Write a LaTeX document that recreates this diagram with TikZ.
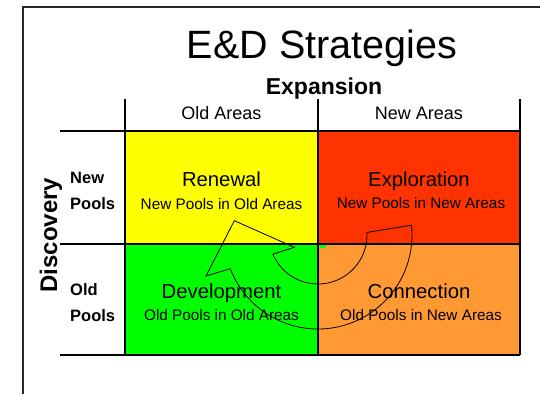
\documentclass[tikz,border=0pt]{standalone}
\usepackage{fontspec}
\setmainfont{Liberation Sans}
\usetikzlibrary{calc}
\definecolor{renewyellow}{RGB}{255,255,0}
\definecolor{explred}{RGB}{255,51,0}
\definecolor{devgreen}{RGB}{0,255,0}
\definecolor{connorange}{RGB}{255,153,51}
\begin{document}
\begin{tikzpicture}[x=1pt,y=-1pt,
  grid/.style={line width=1.5pt},
  word/.style={anchor=base,font=\fontsize{20.3}{24}\selectfont},
  sub/.style={anchor=base,font=\fontsize{15.3}{18}\selectfont},
  rowlab/.style={anchor=base west,inner sep=0pt,font=\fontsize{16.5}{20}\selectfont\bfseries},
  colhead/.style={anchor=base,font=\fontsize{18}{22}\selectfont}]
\useasboundingbox (0,0) rectangle (540,394);

\draw[line width=1.3pt, black!85] (23,394) -- (23,7) -- (540,7);

\fill[renewyellow] (125,131) rectangle (318,244);
\fill[explred] (318,131) rectangle (520,244);
\fill[devgreen] (125,244) rectangle (318,355);
\fill[connorange] (318,244) rectangle (520,355);
\fill[devgreen] (319.5,245) rectangle (326,247.5);

\draw[grid] (60,131) -- (520,131) (60,244) -- (520,244) (60,355) -- (520,355);
\draw[grid] (125,99) -- (125,355) (318,99) -- (318,355) (520,99) -- (520,355);

\node[anchor=base, font=\fontsize{39.5}{44}\selectfont] (title) at (322,58) {E\&D Strategies};
\node[anchor=base, font=\fontsize{23}{26}\selectfont\bfseries] (expansion) at (324,94) {Expansion};
\node[colhead] (oldareas) at (221.5,119) {Old Areas};
\node[colhead] (newareas) at (419,119) {New Areas};

\node[rotate=90, anchor=base, font=\fontsize{24}{28}\selectfont\bfseries] (discovery) at (57,235) {Discovery};
\node[rowlab] (new) at (70,183.5) {New};
\node[rowlab] (newpools) at (70,209.5) {Pools};
\node[rowlab] (old) at (70,295.5) {Old};
\node[rowlab] (oldpools) at (70,321) {Pools};

\node[word] (renewal) at (221.5,186) {Renewal};
\node[sub] (renewalsub) at (221.5,209) {New Pools in Old Areas};
\node[word] (exploration) at (419,186) {Exploration};
\node[sub] (explorationsub) at (421,208.5) {New Pools in New Areas};
\node[word] (development) at (221.5,298) {Development};
\node[sub] (developmentsub) at (221.5,320) {Old Pools in Old Areas};
\node[word] (connection) at (419,298) {Connection};
\node[sub] (connectionsub) at (421,320) {Old Pools in New Areas};

\coordinate (hub) at (318,235);
\draw[line width=0.8pt] (hub) ++(-3:49) arc[start angle=-3, end angle=157, radius=49]
  -- (294.3,247.3) -- (234.3,220.7) -- (206,276)
  -- ($(hub)+(159:94)$) arc[start angle=159, end angle=-6, radius=94] -- cycle;
\end{tikzpicture}
\end{document}
